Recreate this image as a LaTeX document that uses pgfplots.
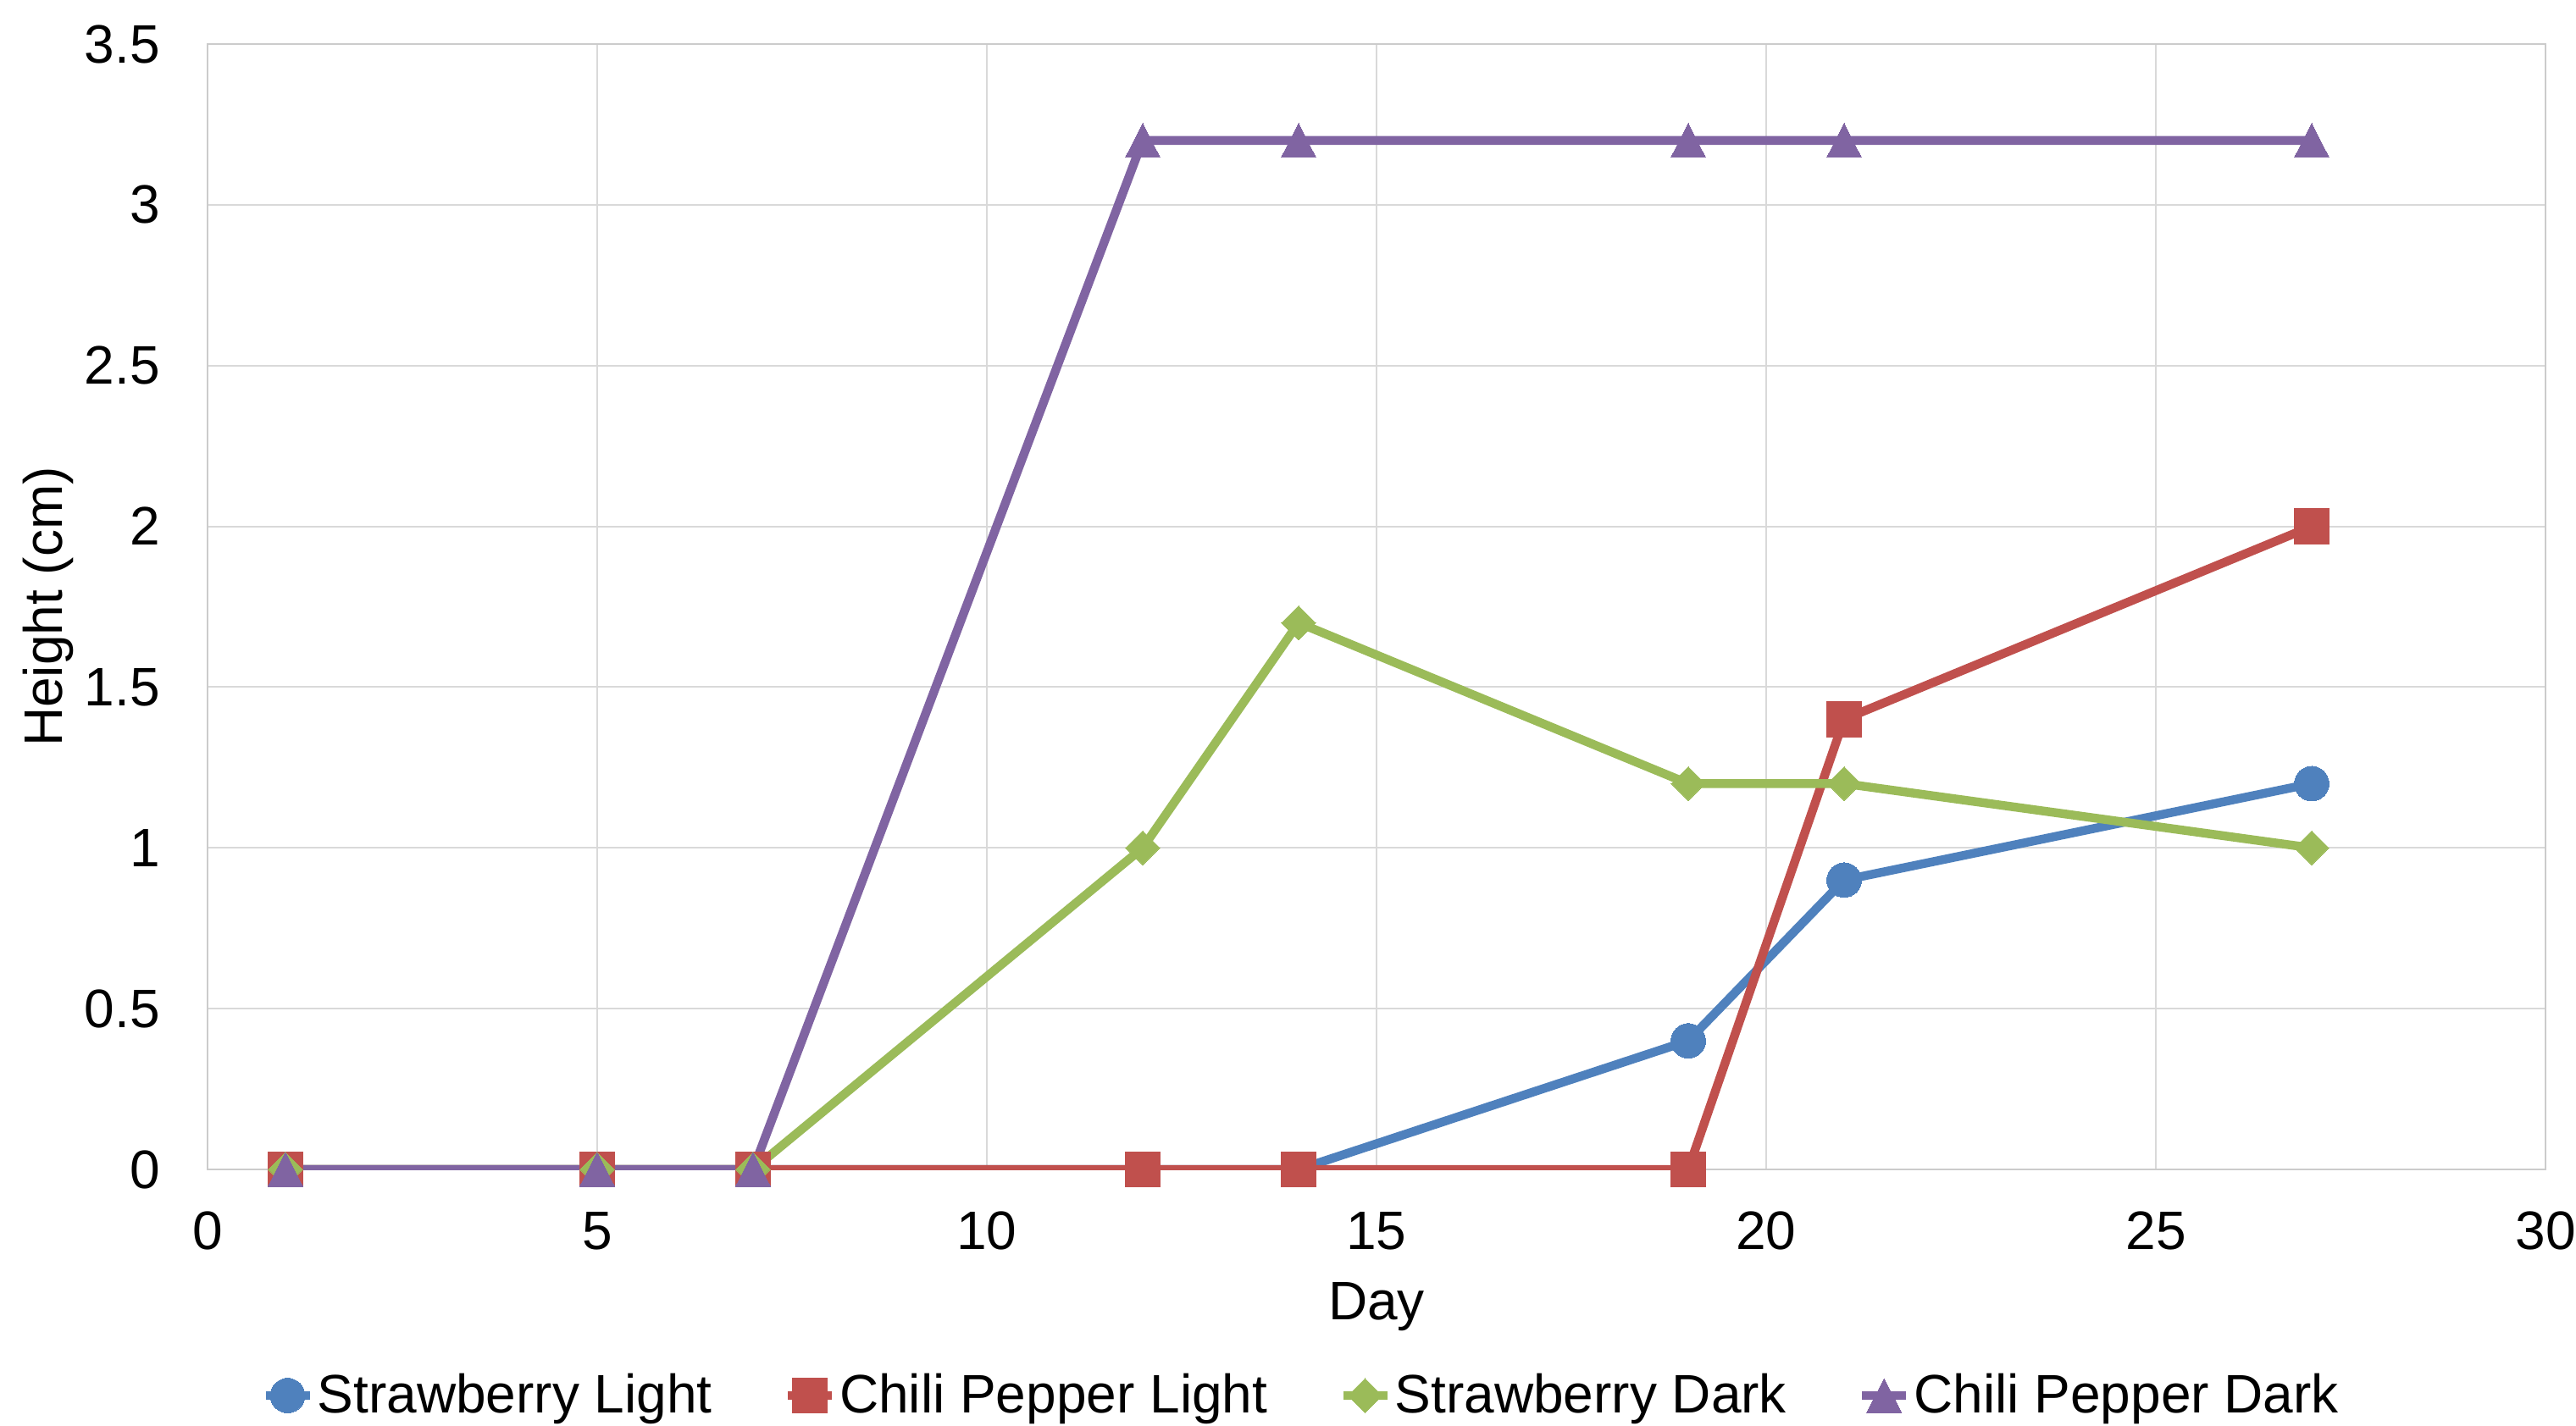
\documentclass[border=0pt]{standalone}
\usepackage{pgfplots}
\pgfplotsset{compat=1.18}
\usepackage{fontspec}
\setmainfont{Liberation Sans}

\definecolor{slblue}{HTML}{4F81BD}
\definecolor{cpred}{HTML}{C0504D}
\definecolor{sdgreen}{HTML}{9BBB59}
\definecolor{cppurple}{HTML}{8064A2}
\definecolor{gridgray}{HTML}{D9D9D9}

\begin{document}
\begin{tikzpicture}
\useasboundingbox (-61.25pt,-75.5pt) rectangle (699pt,345.25pt);
\begin{axis}[
  scale only axis,
  width=690pt, height=332.25pt,
  xmin=0, xmax=30, ymin=0, ymax=3.5,
  xtick={0,5,...,30},
  ytick={0,0.5,...,3.5},
  yticklabels={0,0.5,1,1.5,2,2.5,3,3.5},
  major tick length=0pt,
  grid=major,
  major grid style={gridgray, line width=0.5pt},
  axis line style={gridgray!85!gray, line width=0.6pt},
  font=\fontsize{16}{19}\selectfont,
  /pgf/number format/assume math mode=true,
  xticklabel style={yshift=-9pt},
  yticklabel style={xshift=-10.5pt},
  xlabel={Day},
  ylabel={Height (cm)},
  every axis x label/.style={at={(axis description cs:0.5,0)}, anchor=center, yshift=-40.5pt},
  every axis y label/.style={at={(axis description cs:0,0.5)}, rotate=90, anchor=center, yshift=47pt},
  legend columns=4,
  legend style={
    at={(axis description cs:0.468,0)}, anchor=center, yshift=-66.75pt,
    draw=none, fill=none,
    font=\fontsize{16}{19}\selectfont,
    /tikz/every even column/.append style={column sep=20pt},
    nodes={inner xsep=1pt},
  },
  legend cell align=left,
  legend image code/.code={
    \draw[mark repeat=2,mark phase=2,#1] plot coordinates {(0pt,0pt) (6.5pt,0pt) (13pt,0pt)};
  },
  every axis plot/.append style={line width=2.6pt},
]
% Strawberry, light
\addplot[color=slblue, mark=*, mark size=5.1pt, mark options={line width=0pt}]
  coordinates {(1,0) (5,0) (7,0) (12,0) (14,0) (19,0.4) (21,0.9) (27,1.2)};
\addlegendentry{Strawberry Light}
% Chili pepper, light
\addplot[color=cpred, mark=square*, mark size=5.2pt, mark options={line width=0pt}]
  coordinates {(1,0) (5,0) (7,0) (12,0) (14,0) (19,0) (21,1.4) (27,2)};
\addlegendentry{Chili Pepper Light}
% Strawberry, dark
\addplot[color=sdgreen, mark=square*, mark size=3.55pt, mark options={rotate=45, line width=0pt}]
  coordinates {(1,0) (5,0) (7,0) (12,1) (14,1.7) (19,1.2) (21,1.2) (27,1)};
\addlegendentry{Strawberry Dark}
% Chili pepper, dark
\addplot[color=cppurple, mark=triangle*, mark size=6.67pt, mark options={xscale=0.89, yshift=-1.67pt, line width=0pt}]
  coordinates {(1,0) (5,0) (7,0) (12,3.2) (14,3.2) (19,3.2) (21,3.2) (27,3.2)};
\addlegendentry{Chili Pepper Dark}
\end{axis}
\end{tikzpicture}
\end{document}
